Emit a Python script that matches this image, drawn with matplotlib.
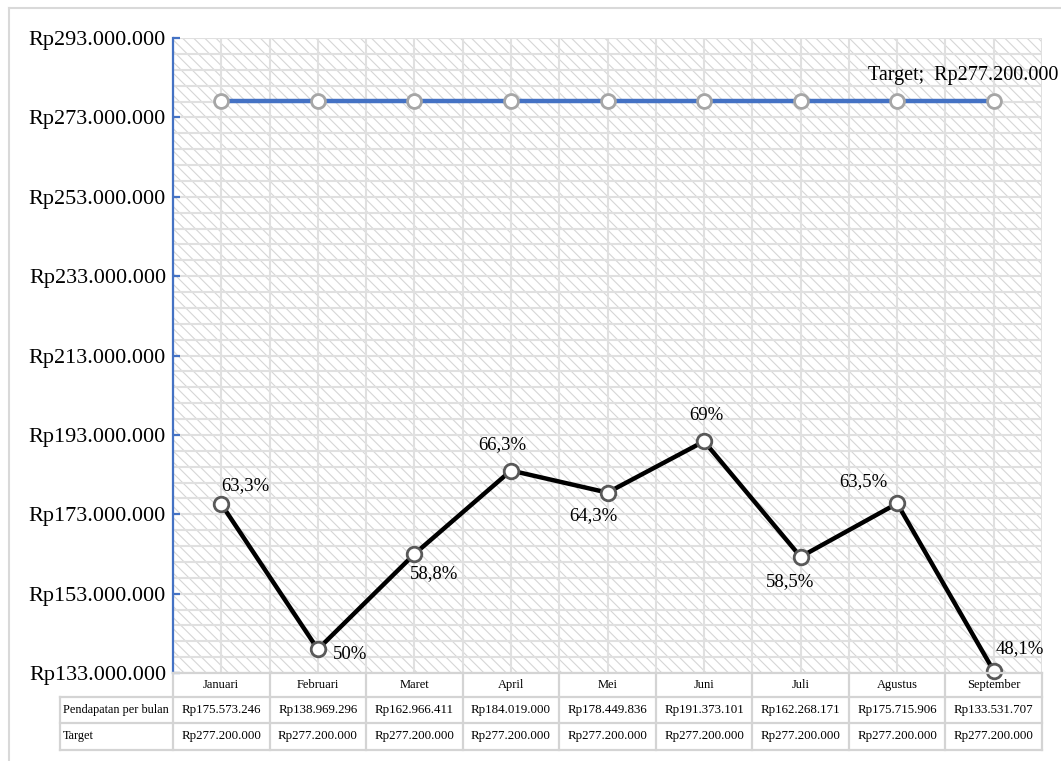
import matplotlib
matplotlib.use("Agg")
import matplotlib.pyplot as plt
import matplotlib.transforms as mtransforms
from matplotlib.patches import Rectangle
from matplotlib.lines import Line2D
from matplotlib.ticker import FuncFormatter

plt.rcParams['font.family'] = ['Liberation Serif', 'DejaVu Serif']
plt.rcParams['hatch.color'] = '#d6d6d6'
plt.rcParams['hatch.linewidth'] = 0.8

# ---- data ----
months = ["Januari", "Februari", "Maret", "April", "Mei", "Juni", "Juli", "Agustus", "September"]
pendapatan = [175573246, 138969296, 162966411, 184019000, 178449836, 191373101, 162268171, 175715906, 133531707]
target = [277200000] * 9
pct_labels = ["63,3%", "50%", "58,8%", "66,3%", "64,3%", "69%", "58,5%", "63,5%", "48,1%"]
row_names = ["Pendapatan per bulan", "Target"]
target_label = "Target;  Rp277.200.000"
y_min, y_max, y_step = 133000000, 293000000, 20000000

# ---- layout ----
W, H = 1061, 761
fig = plt.figure(figsize=(W / 100, H / 100), dpi=100)
fig.patch.set_facecolor('white')

def fx(px):
    return px / W

def fy(py):
    return 1 - py / H

L, R, T, B = 173, 1042, 38, 673
ax = fig.add_axes([fx(L), fy(B), fx(R) - fx(L), fy(T) - fy(B)])
ax.set_facecolor('white')
ax.set_xlim(-0.5, len(months) - 0.5)
ax.set_ylim(y_min, y_max)

# hatched background
ax.add_patch(Rectangle((0, 0), 1, 1, transform=ax.transAxes, facecolor='white',
                       edgecolor='#d6d6d6', hatch='\\\\\\', linewidth=0, zorder=0))

# grid
for yv in range(y_min, y_max + 1, 4000000):
    ax.axhline(yv, color='#e0e0e0', lw=1.5, zorder=1)
for i in range(len(months) * 2 + 1):
    ax.axvline(-0.5 + i * 0.5, color='#e0e0e0', lw=1.5, zorder=1)

# spines/ticks
for s in ['top', 'right', 'bottom']:
    ax.spines[s].set_visible(False)
ax.spines['left'].set_color('#4472C4')
ax.spines['left'].set_linewidth(1.6)
ax.set_yticks(list(range(y_min, y_max + 1, y_step)))
ax.yaxis.set_major_formatter(FuncFormatter(lambda v, p: "Rp" + f"{v:,.0f}".replace(",", ".")))
ax.tick_params(axis='y', colors='#4472C4', length=5, width=1.6, direction='in', labelsize=16, pad=5)
for lab in ax.get_yticklabels():
    lab.set_color('black')
ax.set_xticks([])

x = list(range(len(months)))
# target line
ax.plot(x, target, color='#4472C4', lw=3.2, zorder=3, marker='o', markersize=10,
        markerfacecolor='white', markeredgecolor='#a6a6a6', markeredgewidth=2, clip_on=False)
# pendapatan line
ax.plot(x, pendapatan, color='black', lw=3.2, zorder=4, marker='o', markersize=10.5,
        markerfacecolor='white', markeredgecolor='#595959', markeredgewidth=2, clip_on=False)

# data labels (offsets in pixels)
offsets = [(24, 18), (32, -5), (20, -20), (-9, 26), (-14, -23), (2, 26), (-11, -25), (-34, 22), (26, 22)]
for xi, yi, lab, (dx, dy) in zip(x, pendapatan, pct_labels, offsets):
    ax.annotate(lab, (xi, yi), xytext=(dx, dy), textcoords='offset pixels',
                ha='center', va='center', fontsize=13.5, zorder=5, annotation_clip=False)
ax.annotate(target_label, (x[-1], target[-1]), xytext=(-31, 25), textcoords='offset pixels',
            ha='center', va='center', fontsize=14.5, zorder=5, annotation_clip=False)

# ---- table ----
blend = mtransforms.blended_transform_factory(ax.transData, fig.transFigure)
grid_c = '#d4d4d4'
row_y = [673, 697, 723, 750]
lab_left = 60
fig.add_artist(Line2D([fx(L), fx(R)], [fy(row_y[0])] * 2, color=grid_c, lw=1.6))
for ry in row_y[1:]:
    fig.add_artist(Line2D([fx(lab_left), fx(R)], [fy(ry)] * 2, color=grid_c, lw=1.6))
fig.add_artist(Line2D([fx(lab_left)] * 2, [fy(row_y[1]), fy(row_y[3])], color=grid_c, lw=1.6))
for i in range(len(months) + 1):
    fig.add_artist(Line2D([i - 0.5] * 2, [fy(row_y[0]), fy(row_y[3])], color=grid_c, lw=1.6,
                          transform=blend))

def fmt(v):
    return "Rp" + f"{v:,.0f}".replace(",", ".")

yc = [fy((row_y[k] + row_y[k + 1]) / 2) for k in range(3)]
for i, m in enumerate(months):
    fig.text(i, yc[0], m, transform=blend, ha='center', va='center', fontsize=9)
    fig.text(i, yc[1], fmt(pendapatan[i]), transform=blend, ha='center', va='center', fontsize=9.3)
    fig.text(i, yc[2], fmt(target[i]), transform=blend, ha='center', va='center', fontsize=9.3)
for k, rn in enumerate(row_names):
    fig.text(fx(lab_left + 3), yc[k + 1], rn, ha='left', va='center', fontsize=8.8)

# outer border
fig.add_artist(Line2D([fx(9), 1], [fy(8), fy(8)], color='#d9d9d9', lw=1.5))
fig.add_artist(Line2D([fx(9), fx(9)], [fy(8), 0], color='#d9d9d9', lw=1.5))

fig.savefig("out.png", dpi=100)
